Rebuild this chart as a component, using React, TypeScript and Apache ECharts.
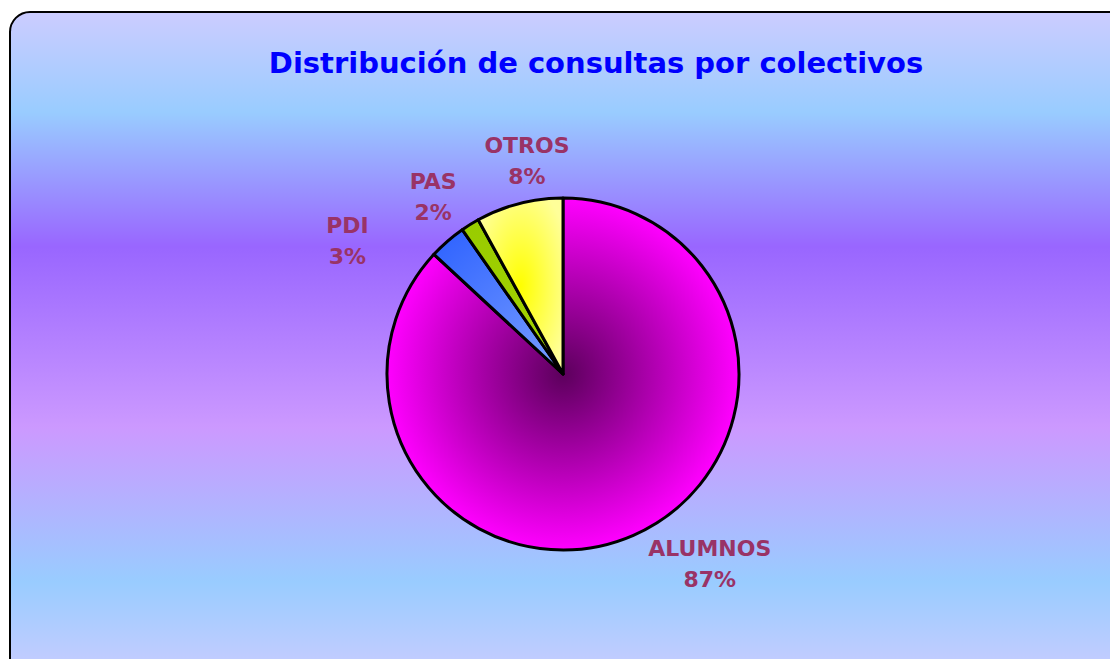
import React, { useEffect, useRef } from "react";
import * as echarts from "echarts";

const categories = ["ALUMNOS", "PDI", "PAS", "OTROS"];
const shares = [86.9, 3.4, 1.7, 8.0];
const titleText = "Distribución de consultas por colectivos";

const CX = 563;
const CY = 374;
const R = 176;

const sliceColors = [
  ["#5c005c", "#ff00ff"],
  ["#7a9fff", "#3366ff"],
  ["#a6d400", "#99cc00"],
  ["#ffff00", "#ffff99"],
];
// gradient anchored to the pie centre (true) or to the slice's own box (false)
const globalGradient = [true, true, true, false];
// label leader distances (radial, horizontal) used only to place the label text
const labelOffsets = [
  [31, 59],
  [0, 95],
  [32, 15],
  [44, -23.7],
];

export default function App() {
  const ref = useRef<HTMLDivElement>(null);
  useEffect(() => {
    document.body.style.margin = "0";
    const chart = echarts.init(ref.current!, undefined, { renderer: "svg" });
    const data = categories.map((name, i) => ({
      name,
      value: shares[i],
      labelLine: { show: false, length: labelOffsets[i][0], length2: labelOffsets[i][1] },
      itemStyle: {
        color: globalGradient[i]
          ? {
              type: "radial",
              x: CX,
              y: CY,
              r: R,
              global: true,
              colorStops: [
                { offset: 0, color: sliceColors[i][0] },
                { offset: 1, color: sliceColors[i][1] },
              ],
            }
          : {
              type: "radial",
              x: 0.5,
              y: 0.5,
              r: 0.6,
              colorStops: [
                { offset: 0, color: sliceColors[i][0] },
                { offset: 1, color: sliceColors[i][1] },
              ],
            },
      },
    }));
    chart.setOption({
      animation: false,
      graphic: [
        {
          type: "rect",
          z: -10,
          shape: { x: 10, y: 12, width: 1120, height: 670, r: 20 },
          style: {
            fill: {
              type: "linear",
              x: 0,
              y: 0,
              x2: 0,
              y2: 1,
              colorStops: [
                { offset: 0, color: "#ccccff" },
                { offset: 0.15, color: "#99ccff" },
                { offset: 0.35, color: "#9966ff" },
                { offset: 0.62, color: "#cc99ff" },
                { offset: 0.85, color: "#99ccff" },
                { offset: 1, color: "#ccccff" },
              ],
            },
            stroke: "#000000",
            lineWidth: 2,
          },
        },
      ],
      title: {
        text: titleText,
        left: 591,
        top: 43,
        textAlign: "center",
        textStyle: {
          color: "#0000ff",
          fontFamily: "DejaVu Sans",
          fontWeight: "bold",
          fontSize: 29,
        },
      },
      series: [
        {
          type: "pie",
          center: [CX, CY],
          radius: R,
          startAngle: 90,
          clockwise: true,
          avoidLabelOverlap: false,
          data,
          itemStyle: { borderColor: "#000000", borderWidth: 3 },
          label: {
            show: true,
            position: "outside",
            formatter: "{b}\n{d}%",
            color: "#993366",
            fontFamily: "DejaVu Sans",
            fontWeight: "bold",
            fontSize: 22,
            lineHeight: 31,
          },
          labelLayout: () => ({ align: "center" }),
          percentPrecision: 0,
          labelLine: { show: false },
        },
      ],
    });
    return () => chart.dispose();
  }, []);
  return <div ref={ref} style={{ width: 1110, height: 659 }} />;
}
